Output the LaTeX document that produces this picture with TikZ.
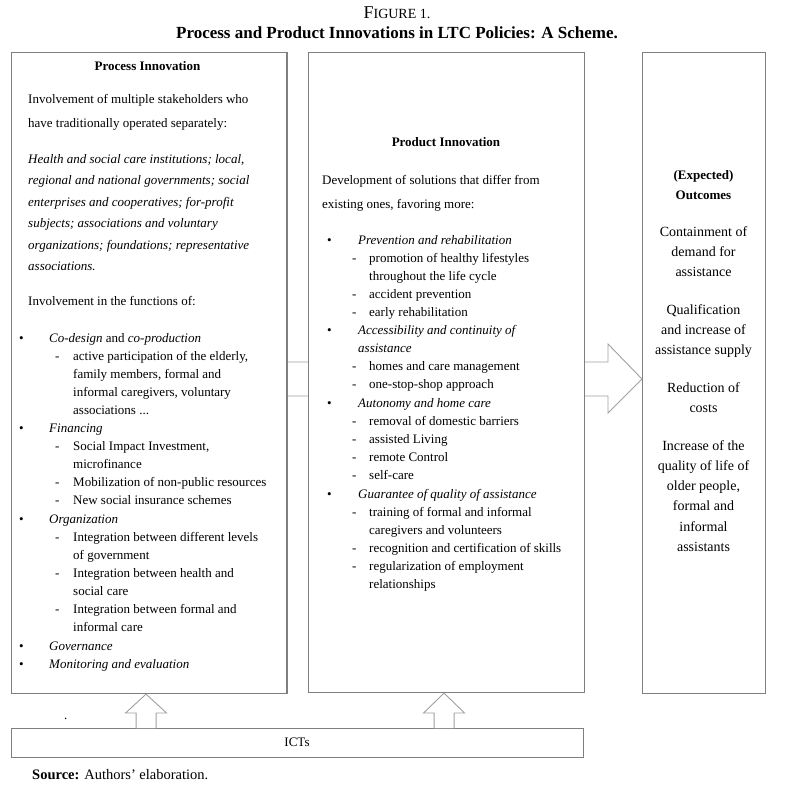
\documentclass[tikz,border=0pt]{standalone}
\usepackage{fontspec}
\setmainfont{Liberation Serif}
\usetikzlibrary{calc}
\definecolor{boxgray}{HTML}{7F7F7F}
\definecolor{arrgray}{HTML}{A0A0A0}
\newcounter{tlc}
\newcommand\Lt[3]{\stepcounter{tlc}\node[txt] (t\arabic{tlc}) at (#1,#2) {#3};}
\newcommand\Ct[3]{\stepcounter{tlc}\node[ctxt] (t\arabic{tlc}) at (#1,#2) {#3};}
\newcommand\Ot[3]{\stepcounter{tlc}\node[otxt] (t\arabic{tlc}) at (#1,#2) {#3};}
\tikzset{
  box/.style={draw=boxgray, line width=1.1pt, fill=white, inner sep=0pt, anchor=north west},
  txt/.style={inner sep=0pt, anchor=base west, font=\fontsize{13}{16}\selectfont},
  ctxt/.style={txt, anchor=base},
  otxt/.style={txt, anchor=base, font=\fontsize{14}{16}\selectfont},
  arrowshape/.style={draw=arrgray, line width=0.9pt, fill=white, line join=miter},
}
\begin{document}
\begin{tikzpicture}[x=1pt,y=-1pt]
\useasboundingbox (0,0) rectangle (794,796);
% title
\Ct{397}{18}{{\fontsize{18}{18}\selectfont F}{\fontsize{14}{14}\selectfont IGURE 1.}}
\Ct{397}{38}{\fontsize{17}{18}\selectfont\bfseries Process and Product Innovations in LTC Policies: A Scheme.}
% boxes
\node[box, minimum width=275.5pt, minimum height=641.5pt] (b1) at (10.5,51.5) {};
\node[box, minimum width=122.5pt, minimum height=641.5pt] (b3) at (642,51.5) {};
% right arrow (passes behind box 2)
\coordinate (tip) at (b3.west |- 0,379);
\draw[arrowshape] ($(b1.east |- tip)+(0,-17)$) -- ($(tip)+(-34,-17)$) -- ($(tip)+(-34,-35)$) -- (tip)
  -- ($(tip)+(-34,34)$) -- ($(tip)+(-34,17)$) -- ($(b1.east |- tip)+(0,17)$);
\node[box, minimum width=275.5pt, minimum height=640.5pt] (b2) at (308,51.5) {};
\draw[boxgray, line width=1.1pt] (b1.north east) -- (b1.south east);
% ICT box and up arrows
\node[box, minimum width=572.5pt, minimum height=29pt] (ict) at (10.5,728) {};
\coordinate (u1) at ($(b1.south)+(-2.75,0)$);
\coordinate (u2) at ($(b2.south)+(-2.25,0)$);
\draw[arrowshape] ($(u1 |- ict.north)+(-10,0)$) -- ($(u1 |- ict.north)+(-10,-15)$) -- ($(u1 |- ict.north)+(-20.5,-15)$) -- (u1) -- ($(u1 |- ict.north)+(20.5,-15)$) -- ($(u1 |- ict.north)+(10,-15)$) -- ($(u1 |- ict.north)+(10,0)$);
\draw[arrowshape] ($(u2 |- ict.north)+(-10,0)$) -- ($(u2 |- ict.north)+(-10,-15)$) -- ($(u2 |- ict.north)+(-20.5,-15)$) -- (u2) -- ($(u2 |- ict.north)+(20.5,-15)$) -- ($(u2 |- ict.north)+(10,-15)$) -- ($(u2 |- ict.north)+(10,0)$);
\Ct{297}{746}{ICTs}
\Lt{64}{719}{.}
\Lt{32}{779}{\fontsize{14.5}{16}\selectfont\textbf{Source:} Authors’ elaboration.}
% ---- box 1 text
\Ct{147.5}{70}{\bfseries Process Innovation}
\Lt{28}{103}{Involvement of multiple stakeholders who}
\Lt{28}{127}{have traditionally operated separately:}
\Lt{28}{163}{\itshape Health and social care institutions; local,}
\Lt{28}{184.5}{\itshape regional and national governments; social}
\Lt{28}{206}{\itshape enterprises and cooperatives; for-profit}
\Lt{28}{227.5}{\itshape subjects; associations and voluntary}
\Lt{28}{249}{\itshape organizations; foundations; representative}
\Lt{28}{270.5}{\itshape associations.}
\Lt{28}{305}{Involvement in the functions of:}
\Lt{19}{342}{\textbullet}\Lt{49}{342}{\textit{Co-design} and \textit{co-production}}
\Lt{55}{360}{-}\Lt{73}{360}{active participation of the elderly,}
\Lt{73}{378}{family members, formal and}
\Lt{73}{396}{informal caregivers, voluntary}
\Lt{73}{414}{associations ...}
\Lt{19}{432}{\textbullet}\Lt{49}{432}{\itshape Financing}
\Lt{55}{450}{-}\Lt{73}{450}{Social Impact Investment,}
\Lt{73}{468}{microfinance}
\Lt{55}{486}{-}\Lt{73}{486}{Mobilization of non-public resources}
\Lt{55}{504}{-}\Lt{73}{504}{New social insurance schemes}
\Lt{19}{523}{\textbullet}\Lt{49}{523}{\itshape Organization}
\Lt{55}{541}{-}\Lt{73}{541}{Integration between different levels}
\Lt{73}{559}{of government}
\Lt{55}{577}{-}\Lt{73}{577}{Integration between health and}
\Lt{73}{595}{social care}
\Lt{55}{613}{-}\Lt{73}{613}{Integration between formal and}
\Lt{73}{631}{informal care}
\Lt{19}{650}{\textbullet}\Lt{49}{650}{\itshape Governance}
\Lt{19}{668}{\textbullet}\Lt{49}{668}{\itshape Monitoring and evaluation}
% ---- box 2 text
\Ct{446}{146}{\bfseries Product Innovation}
\Lt{322}{184}{Development of solutions that differ from}
\Lt{322}{208}{existing ones, favoring more:}
\Lt{327}{244}{\textbullet}\Lt{358}{244}{\itshape Prevention and rehabilitation}
\Lt{352}{262}{-}\Lt{369}{262}{promotion of healthy lifestyles}
\Lt{369}{280}{throughout the life cycle}
\Lt{352}{298}{-}\Lt{369}{298}{accident prevention}
\Lt{352}{316}{-}\Lt{369}{316}{early rehabilitation}
\Lt{327}{334}{\textbullet}\Lt{358}{334}{\itshape Accessibility and continuity of}
\Lt{358}{352}{\itshape assistance}
\Lt{352}{370}{-}\Lt{369}{370}{homes and care management}
\Lt{352}{388}{-}\Lt{369}{388}{one-stop-shop approach}
\Lt{327}{407}{\textbullet}\Lt{358}{407}{\itshape Autonomy and home care}
\Lt{352}{425}{-}\Lt{369}{425}{removal of domestic barriers}
\Lt{352}{443}{-}\Lt{369}{443}{assisted Living}
\Lt{352}{461}{-}\Lt{369}{461}{remote Control}
\Lt{352}{479}{-}\Lt{369}{479}{self-care}
\Lt{327}{498}{\textbullet}\Lt{358}{498}{\itshape Guarantee of quality of assistance}
\Lt{352}{516}{-}\Lt{369}{516}{training of formal and informal}
\Lt{369}{534}{caregivers and volunteers}
\Lt{352}{552}{-}\Lt{369}{552}{recognition and certification of skills}
\Lt{352}{570}{-}\Lt{369}{570}{regularization of employment}
\Lt{369}{588}{relationships}
% ---- box 3 text
\Ct{703.5}{179}{\bfseries (Expected)}
\Ct{703.5}{199}{\bfseries Outcomes}
\Ot{703.5}{236}{Containment of}
\Ot{703.5}{256}{demand for}
\Ot{703.5}{276}{assistance}
\Ot{703.5}{314}{Qualification}
\Ot{703.5}{334}{and increase of}
\Ot{703.5}{354}{assistance supply}
\Ot{703.5}{392}{Reduction of}
\Ot{703.5}{412}{costs}
\Ot{703.5}{450}{Increase of the}
\Ot{703.5}{470}{quality of life of}
\Ot{703.5}{490}{older people,}
\Ot{703.5}{510}{formal and}
\Ot{703.5}{531}{informal}
\Ot{703.5}{551}{assistants}
\end{tikzpicture}
\end{document}
